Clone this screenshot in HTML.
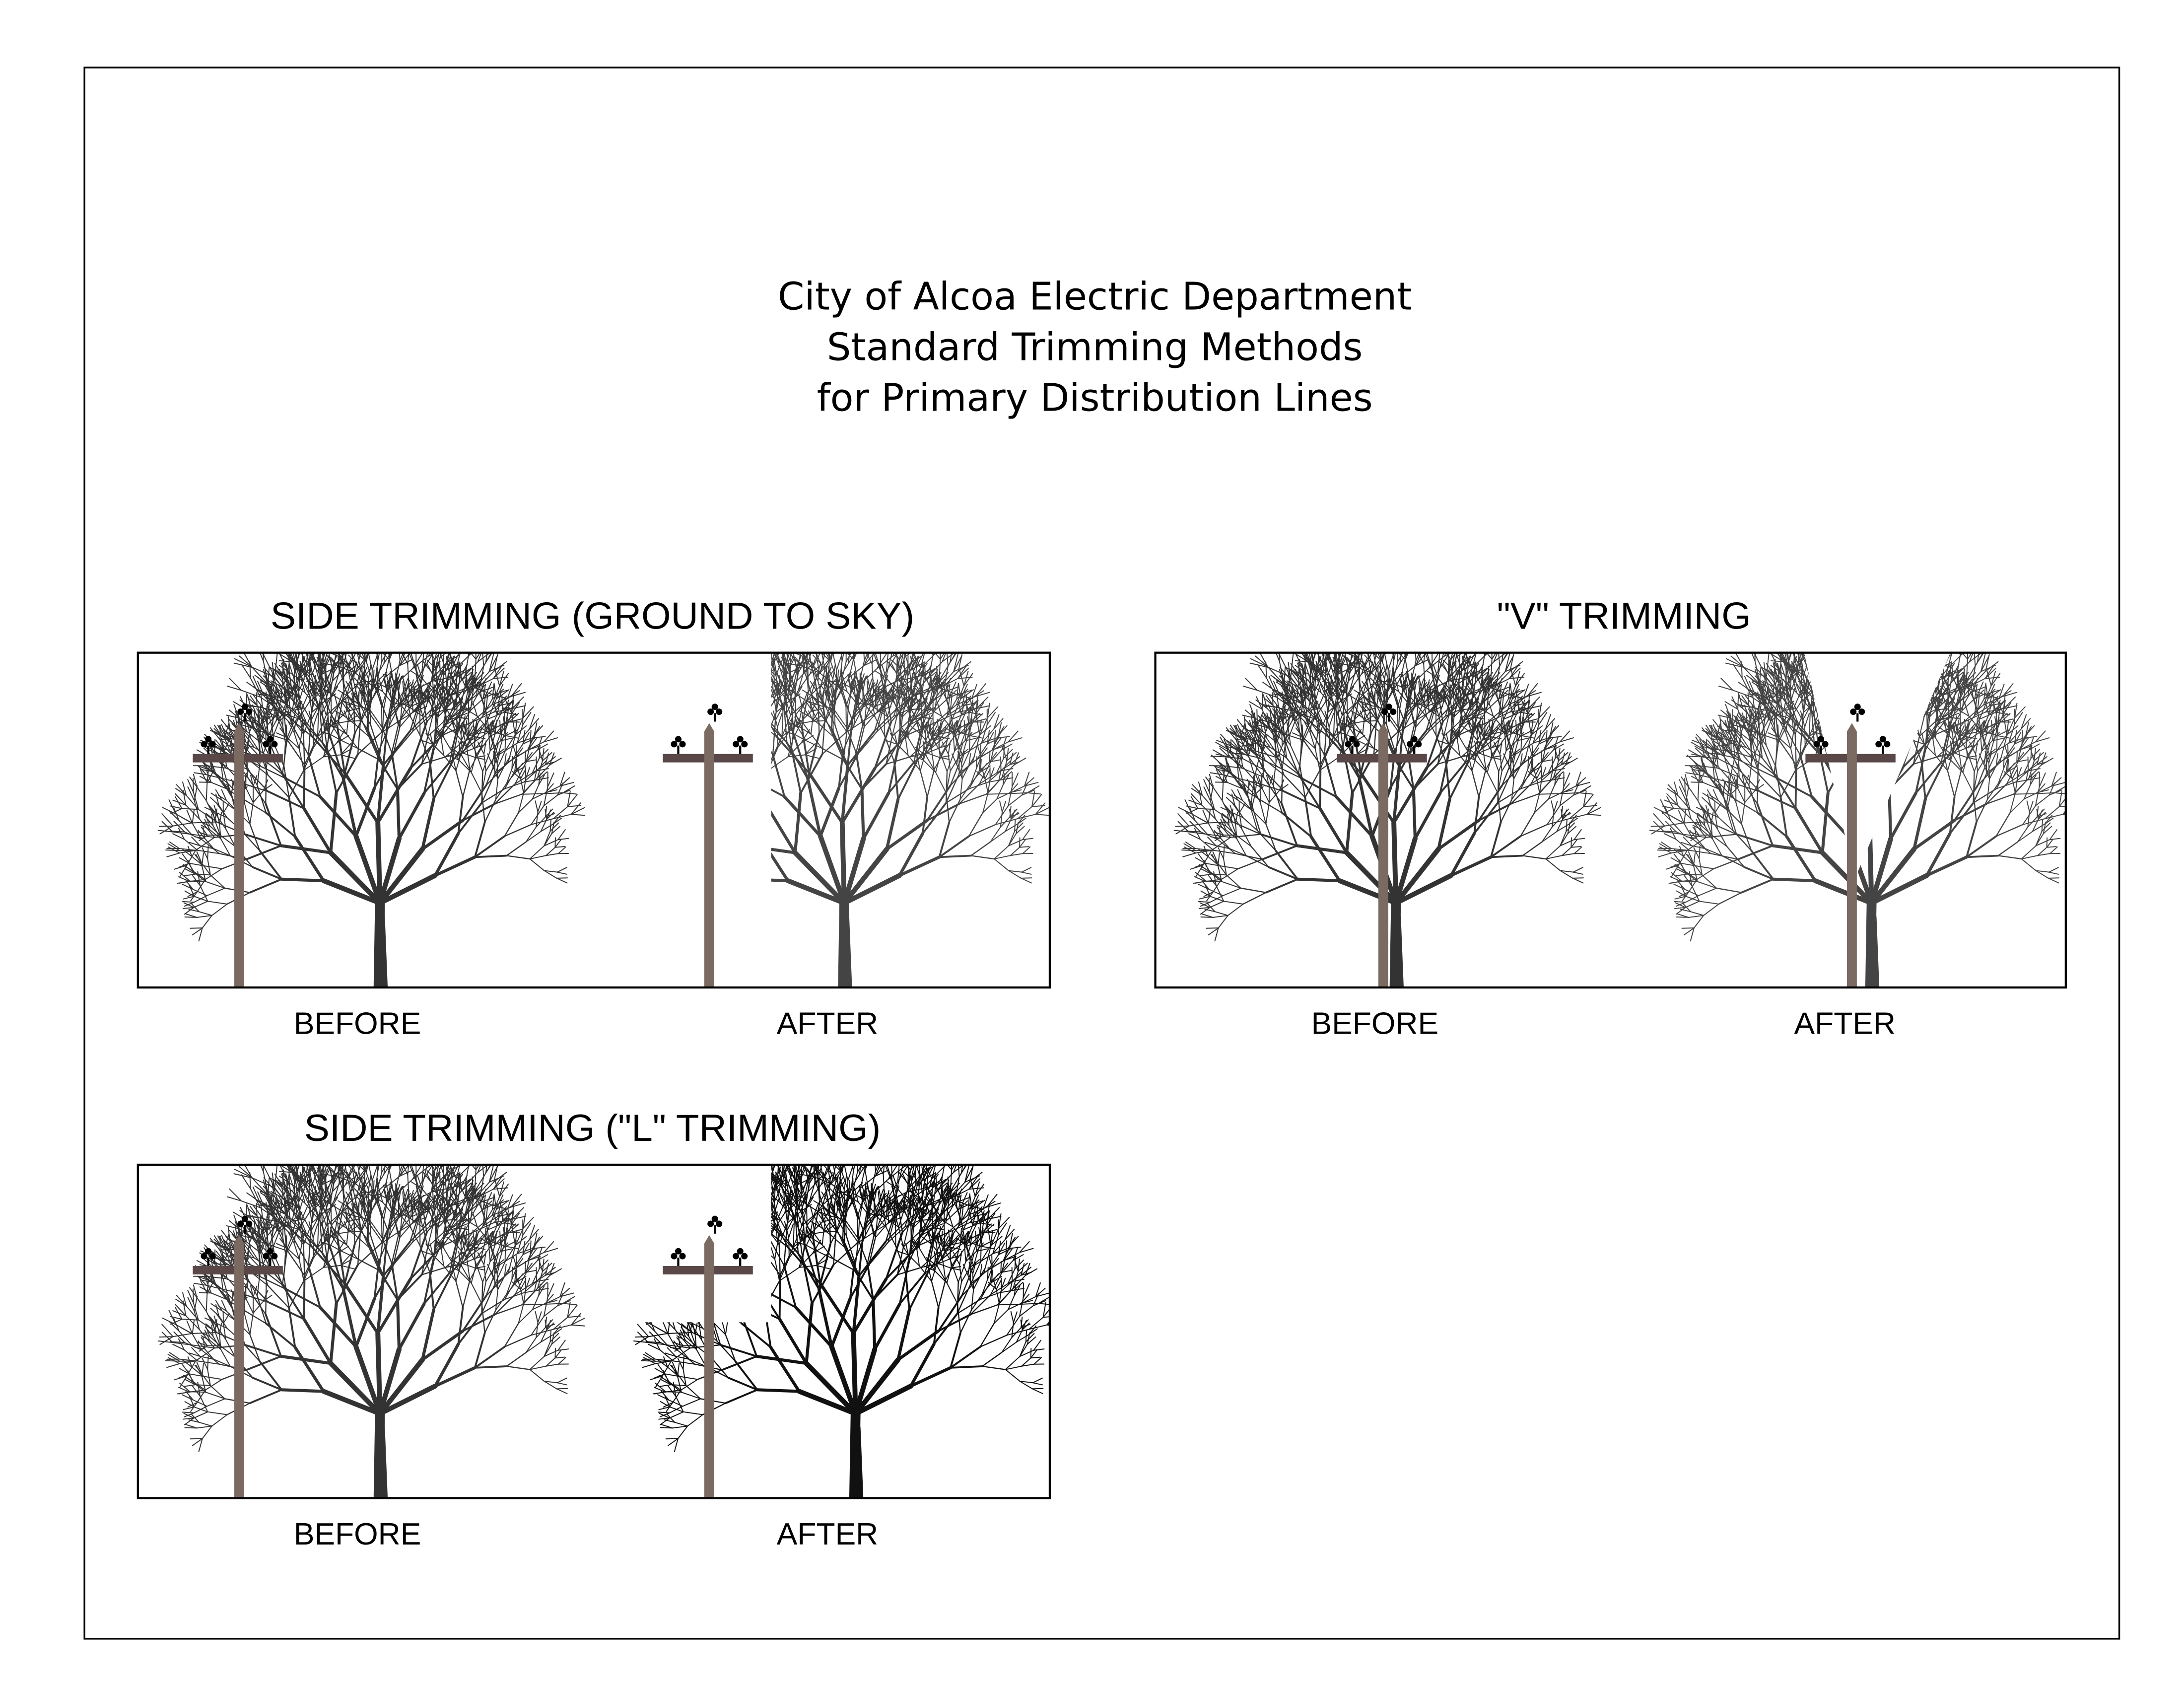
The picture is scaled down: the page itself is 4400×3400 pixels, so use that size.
<!DOCTYPE html>
<html><head><meta charset="utf-8"><style>
html,body{margin:0;padding:0;background:#fff}
svg{display:block}
text{font-family:"Liberation Sans","DejaVu Sans",sans-serif;fill:#000}
</style></head><body>
<svg id="s" width="4400" height="3400" viewBox="0 0 1552 1200" preserveAspectRatio="none" xmlns="http://www.w3.org/2000/svg">
<rect x="60" y="48" width="1446" height="1117" fill="none" stroke="#000" stroke-width="1.2"/>
<g text-anchor="middle" font-size="27">
<text x="778" y="220" style="font-family:'DejaVu Sans',sans-serif">City of Alcoa Electric Department</text>
<text x="778" y="256" style="font-family:'DejaVu Sans',sans-serif">Standard Trimming Methods</text>
<text x="778" y="292" style="font-family:'DejaVu Sans',sans-serif">for Primary Distribution Lines</text>
</g>
<g text-anchor="middle" font-size="27">
<text x="421" y="447">SIDE TRIMMING (GROUND TO SKY)</text>
<text x="1154" y="447">"V" TRIMMING</text>
<text x="421" y="811">SIDE TRIMMING ("L" TRIMMING)</text>
</g>
<g text-anchor="middle" font-size="22">
<text x="254" y="735">BEFORE</text><text x="588" y="735">AFTER</text>
<text x="977" y="735">BEFORE</text><text x="1311" y="735">AFTER</text>
<text x="254" y="1098">BEFORE</text><text x="588" y="1098">AFTER</text>
</g>
<defs>
<clipPath id="a1"><rect x="98" y="464" width="330" height="238"/></clipPath>
<clipPath id="c1"><rect x="548" y="464" width="198" height="238"/></clipPath>
<clipPath id="a2"><rect x="821" y="464" width="320" height="238"/></clipPath>
<clipPath id="cv"><polygon points="1150,464 1282,464 1318,625 1386,464 1468,464 1468,702 1150,702"/></clipPath>
<clipPath id="a3"><rect x="98" y="828" width="330" height="237"/></clipPath>
<clipPath id="cl"><polygon points="548,828 746,828 746,1065 430,1065 430,940 548,940"/></clipPath>
</defs>
<g id="trees"></g>
<g id="poles"></g>
<g fill="none" stroke="#000" stroke-width="1.5">
<rect x="98" y="464" width="648" height="238"/>
<rect x="821" y="464" width="647" height="238"/>
<rect x="98" y="828" width="648" height="237"/>
</g>
</svg>
<script>
var NS="http://www.w3.org/2000/svg";
function mkTree(cx,base,color,clip){
  var seed=12345;function r(){seed=(seed*16807)%2147483647;return seed/2147483647;}
  var g=document.createElementNS(NS,"g");
  g.setAttribute("clip-path","url(#"+clip+")");
  g.setAttribute("stroke",color);g.setAttribute("stroke-linecap","round");g.setAttribute("fill","none");
  function line(x,y,x2,y2,w){
    var l=document.createElementNS(NS,"line");
    l.setAttribute("x1",x.toFixed(1));l.setAttribute("y1",y.toFixed(1));
    l.setAttribute("x2",x2.toFixed(1));l.setAttribute("y2",y2.toFixed(1));
    l.setAttribute("stroke-width",w.toFixed(2));g.appendChild(l);
  }
  function br(x,y,a,len,w,depth){
    var x2=x+Math.cos(a)*len*1.12,y2=y+Math.sin(a)*len*1.25;
    line(x,y,x2,y2,Math.max(w,0.7));
    if(depth<=0)return;
    var n=(r()<0.3)?3:2;
    for(var i=0;i<n;i++){
      var spread=(i-(n-1)/2)*(0.5+r()*0.35)+(r()-0.5)*0.35;
      var na=a+spread; na=na*0.85+(-Math.PI/2)*0.15;
      br(x2,y2,na,len*(0.7+r()*0.12),w*0.62,depth-1);
    }
  }
  line(cx-1,base,cx,base-60,7);
  line(cx+3,base,cx+1,base-50,5);
  var ty=base-60;
  var angs=[-2.8,-2.4,-1.95,-1.6,-1.25,-0.85,-0.42];
  for(var i=0;i<angs.length;i++){br(cx,ty,angs[i],37+r()*10,3.5,6);}
  document.getElementById("trees").appendChild(g);
}
function pole(x,top,bot,cy){
  var p=document.getElementById("poles");
  p.innerHTML+='<rect x="'+(x-33)+'" y="'+cy+'" width="64" height="6" fill="#5a4848"/>'+
   '<path d="M'+(x-3.5)+' '+bot+' V'+(top+6)+' L'+x+' '+top+' L'+(x+3.5)+' '+(top+6)+' V'+bot+' Z" fill="#7b6a62"/>';
  [[x-22,cy],[x+22,cy],[x+4,cy-23]].forEach(function(q){
    var cx=q[0],y=q[1];
    p.innerHTML+='<line x1="'+cx+'" y1="'+y+'" x2="'+cx+'" y2="'+(y-6)+'" stroke="#000" stroke-width="1.5"/>'+
     '<circle cx="'+(cx-3)+'" cy="'+(y-7)+'" r="2.3" fill="#000"/><circle cx="'+(cx+3)+'" cy="'+(y-7)+'" r="2.3" fill="#000"/><circle cx="'+cx+'" cy="'+(y-10.5)+'" r="2.3" fill="#000"/>';
  });
}
mkTree(270,702,"#333","a1");
mkTree(600,702,"#444","c1");
mkTree(992,702,"#333","a2");
mkTree(1330,702,"#444","cv");
mkTree(270,1065,"#333","a3");
mkTree(608,1065,"#111","cl");
pole(170,514,702,536);pole(504,514,702,536);
pole(983,514,702,536);pole(1316,514,702,536);
pole(170,878,1065,900);pole(504,878,1065,900);
</script>
</body></html>
